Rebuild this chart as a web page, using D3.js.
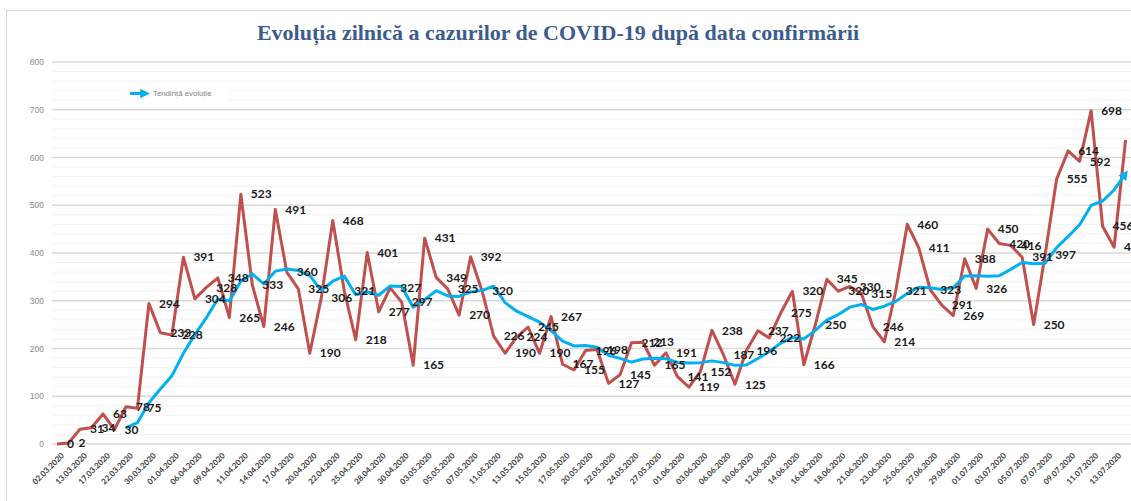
<!DOCTYPE html>
<html>
<head>
<meta charset="utf-8">
<script src="https://cdn.jsdelivr.net/npm/d3@7/dist/d3.min.js"></script>
<style>
    body { margin: 0; background: #fff; }
    svg { display: block; }
</style>
</head>
<body>
<svg id="chart" width="1131" height="501"></svg>
<script>
var titleText = "Evoluția zilnică a cazurilor de COVID-19 după data confirmării";
var legendText = "Tendință evoluție";

var dates = [
    "02.03.2020", "03.03.2020", "13.03.2020", "14.03.2020", "17.03.2020", "18.03.2020", "22.03.2020", "23.03.2020",
    "30.03.2020", "31.03.2020", "01.04.2020", "02.04.2020", "06.04.2020", "07.04.2020", "09.04.2020", "10.04.2020",
    "11.04.2020", "12.04.2020", "14.04.2020", "15.04.2020", "17.04.2020", "18.04.2020", "20.04.2020", "21.04.2020",
    "22.04.2020", "23.04.2020", "25.04.2020", "26.04.2020", "28.04.2020", "29.04.2020", "30.04.2020", "01.05.2020",
    "03.05.2020", "04.05.2020", "05.05.2020", "06.05.2020", "07.05.2020", "08.05.2020", "11.05.2020", "12.05.2020",
    "13.05.2020", "14.05.2020", "15.05.2020", "16.05.2020", "17.05.2020", "18.05.2020", "20.05.2020", "21.05.2020",
    "22.05.2020", "23.05.2020", "24.05.2020", "25.05.2020", "27.05.2020", "28.05.2020", "01.06.2020", "02.06.2020",
    "03.06.2020", "04.06.2020", "06.06.2020", "07.06.2020", "10.06.2020", "11.06.2020", "12.06.2020", "13.06.2020",
    "14.06.2020", "15.06.2020", "16.06.2020", "17.06.2020", "18.06.2020", "19.06.2020", "21.06.2020", "22.06.2020",
    "23.06.2020", "24.06.2020", "25.06.2020", "26.06.2020", "27.06.2020", "28.06.2020", "29.06.2020", "30.06.2020",
    "01.07.2020", "02.07.2020", "03.07.2020", "04.07.2020", "05.07.2020", "06.07.2020", "07.07.2020", "08.07.2020",
    "09.07.2020", "10.07.2020", "11.07.2020", "12.07.2020", "13.07.2020", "14.07.2020"
];

// cazuri zilnice (linia rosie)
var cases = [
    0, 2, 31, 34, 63, 30, 78, 75, 294, 233,
    228, 391, 304, 328, 348, 265, 523, 333, 246, 491,
    360, 325, 190, 306, 468, 321, 218, 401, 277, 327,
    297, 165, 431, 349, 325, 270, 392, 320, 226, 190,
    224, 245, 190, 267, 167, 155, 196, 198, 127, 145,
    212, 213, 165, 191, 141, 119, 152, 238, 187, 125,
    196, 237, 222, 275, 320, 166, 250, 345, 320, 330,
    315, 246, 214, 321, 460, 411, 323, 291, 269, 388,
    326, 450, 420, 416, 391, 250, 397, 555, 614, 592,
    698, 456, 412, 637
];

// tendinta (linia albastra), incepe la a 7-a zi
var trend = [
    null, null, null, null, null, null, 34.0, 44.7, 86.4, 115.3,
    143.0, 189.9, 229.0, 264.7, 303.7, 299.6, 341.0, 356.0, 335.3, 362.0,
    366.6, 363.3, 352.6, 321.6, 340.9, 351.6, 312.6, 318.4, 311.6, 331.1,
    329.9, 286.6, 302.3, 321.0, 310.1, 309.1, 318.4, 321.7, 330.4, 296.0,
    278.1, 266.7, 255.3, 237.4, 215.6, 205.4, 206.3, 202.6, 185.7, 179.3,
    171.4, 178.0, 179.4, 178.7, 170.6, 169.4, 170.4, 174.1, 170.4, 164.7,
    165.4, 179.1, 193.9, 211.4, 223.1, 220.1, 238.0, 259.3, 271.1, 286.6,
    292.3, 281.7, 288.6, 298.7, 315.1, 328.1, 327.1, 323.7, 327.0, 351.9,
    352.6, 351.1, 352.4, 365.7, 380.0, 377.3, 378.6, 411.3, 434.7, 459.3,
    499.6, 508.9, 532.0, 566.3
];

var yTicks = [0, 100, 200, 300, 400, 500, 600, 700, 800];
var yMinor = d3.range(0, 801, 20);

var width = 1131;
var height = 501;
var left = 52;
var x0 = 57, x1 = 1125.6;
var yTop = 62, yBottom = 444;

var svg = d3.select("#chart");

svg.append("defs").append("marker")
    .attr("id", "arrow")
    .attr("viewBox", "0 0 10 10")
    .attr("refX", 6)
    .attr("refY", 5)
    .attr("markerWidth", 3.2)
    .attr("markerHeight", 3.2)
    .attr("orient", "auto")
    .append("path")
    .attr("d", "M0,0 L10,5 L0,10 z")
    .attr("fill", "#00b0f0");

// chenarul graficului
svg.append("rect")
    .attr("x", 6.5).attr("y", 10.5)
    .attr("width", 1140).attr("height", 510)
    .attr("fill", "#fff")
    .attr("stroke", "#d9d9d9");

var xscl = d3.scalePoint()
    .domain(dates)
    .range([x0, x1]);

var yscl = d3.scaleLinear()
    .domain([0, 800])
    .range([yBottom, yTop]);

// linii de grila
svg.append("g").selectAll("line")
    .data(yMinor.filter(function(d) { return d % 100 !== 0; }))
    .enter().append("line")
    .attr("x1", left).attr("x2", width)
    .attr("y1", function(d) { return yscl(d); })
    .attr("y2", function(d) { return yscl(d); })
    .style("stroke", "#f2f2f2")
    .style("stroke-width", 1);

svg.append("g").selectAll("line")
    .data(yTicks)
    .enter().append("line")
    .attr("x1", left).attr("x2", width)
    .attr("y1", function(d) { return yscl(d); })
    .attr("y2", function(d) { return yscl(d); })
    .style("stroke", "#d9d9d9")
    .style("stroke-width", 1.3);

var yAxis = d3.axisLeft(yscl).tickValues(yTicks).tickSize(0).tickPadding(8);
svg.append("g")
    .attr("transform", "translate(" + left + ",0)")
    .call(yAxis)
    .call(function(g) { g.select(".domain").remove(); })
    .selectAll("text")
    .style("font-family", "Liberation Sans, Arial, sans-serif")
    .style("font-size", "8.5px")
    .style("fill", "#8c8c8c");

// etichete axa x (din doua in doua)
var xAxis = d3.axisBottom(xscl)
    .tickValues(dates.filter(function(d, i) { return i % 2 === 0; }))
    .tickSize(0);
svg.append("g")
    .attr("transform", "translate(0," + (yBottom + 6) + ")")
    .call(xAxis)
    .call(function(g) { g.select(".domain").remove(); })
    .selectAll("text")
    .attr("text-anchor", "end")
    .attr("dy", "0.35em")
    .attr("transform", "translate(3,2) rotate(-45)")
    .style("font-family", "Lato, sans-serif")
    .style("font-weight", "bold")
    .style("font-size", "8px")
    .style("fill", "#404040");

// titlu
svg.append("text")
    .attr("x", 558)
    .attr("y", 40)
    .attr("text-anchor", "middle")
    .style("font-family", "Liberation Serif, serif")
    .style("font-weight", "bold")
    .style("font-size", "22px")
    .style("fill", "#3b5c8f")
    .text(titleText);

var slice = d3.line()
    .defined(function(d) { return d.y !== null; })
    .x(function(d) { return xscl(d.x); })
    .y(function(d) { return yscl(d.y); });

var redData = dates.map(function(d, i) { return {x: d, y: cases[i]}; });
var blueData = dates.map(function(d, i) { return {x: d, y: trend[i]}; });

svg.append("path")
    .attr("d", slice(redData))
    .style("fill", "none")
    .style("stroke", "#c0504d")
    .style("stroke-width", 3)
    .style("stroke-linejoin", "round");

svg.append("path")
    .attr("d", slice(blueData))
    .attr("marker-end", "url(#arrow)")
    .style("fill", "none")
    .style("stroke", "#00b0f0")
    .style("stroke-width", 3)
    .style("stroke-linejoin", "round");

// etichete de date
svg.append("g").selectAll("text")
    .data(redData)
    .enter().append("text")
    .attr("x", function(d) { return xscl(d.x) + 10; })
    .attr("y", function(d) { return yscl(d.y); })
    .attr("dy", "0.35em")
    .style("font-family", "Lato, sans-serif")
    .style("font-weight", "bold")
    .style("font-size", "12px")
    .style("fill", "#1a1a1a")
    .text(function(d) { return d.y; });

// legenda
var legend = svg.append("g");
legend.append("rect")
    .attr("x", 122).attr("y", 83)
    .attr("width", 106).attr("height", 22)
    .attr("fill", "#fff");
legend.append("line")
    .attr("x1", 130).attr("x2", 146)
    .attr("y1", 93.5).attr("y2", 93.5)
    .attr("marker-end", "url(#arrow)")
    .style("stroke", "#00b0f0")
    .style("stroke-width", 3);
legend.append("text")
    .attr("x", 153)
    .attr("y", 93.5)
    .attr("dy", "0.35em")
    .style("font-family", "Liberation Sans, Arial, sans-serif")
    .style("font-size", "7.8px")
    .style("fill", "#7f7f7f")
    .text(legendText);
</script>
</body>
</html>
